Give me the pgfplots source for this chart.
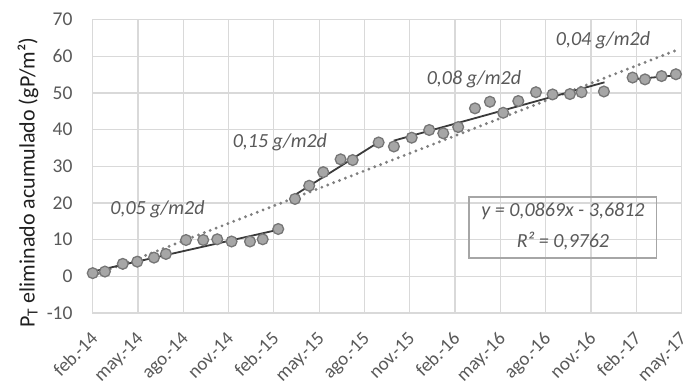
\documentclass[border=0pt]{standalone}
\usepackage{fontspec}
\setmainfont{Carlito}
\usepackage{pgfplots}
\pgfplotsset{compat=1.18}
\definecolor{gridc}{HTML}{D9D9D9}
\definecolor{txt}{HTML}{595959}
\definecolor{mfill}{HTML}{A6A6A6}
\definecolor{mdraw}{HTML}{767676}
\definecolor{trend}{HTML}{3A3A3A}
\definecolor{dotc}{HTML}{7F7F7F}
\definecolor{boxc}{HTML}{A6A6A6}
\begin{document}
\begin{tikzpicture}
\begin{axis}[
  at={(0,0)}, anchor=south west,
  scale only axis, width=588.8bp, height=293.4bp,
  xmin=0, xmax=39, ymin=-10, ymax=70,
  xtick={0,3,...,39},
  xticklabels={feb.-14,may.-14,ago.-14,nov.-14,feb.-15,may.-15,ago.-15,nov.-15,feb.-16,may.-16,ago.-16,nov.-16,feb.-17,may.-17},
  ytick={-10,0,...,70},
  yticklabels={-10,0,10,20,30,40,50,60,70},
  grid=major, grid style={gridc, line width=1.2bp},
  axis line style={gridc, line width=1.2bp},
  major tick length=0pt,
  tick label style={font=\fontsize{19.5bp}{22bp}\selectfont, text=txt},
  xticklabel style={font=\fontsize{19bp}{22bp}\selectfont, xshift=-2.5bp, yshift=-18bp, rotate=45, anchor=north east, inner sep=0pt, text height=12bp, text depth=0pt},
  yticklabel style={anchor=east, inner sep=0pt, xshift=-20bp},
  ylabel={P\textsubscript{T} eliminado acumulado (gP/m²)},
  ylabel style={at={(axis description cs:-0.11,0.445)}, anchor=center, font=\fontsize{22bp}{26bp}\selectfont, text=black!88},
  clip=false,
]
% data points
\addplot[only marks, mark=*, mark size=5.4bp, mark options={fill=mfill, draw=mdraw, line width=1.3bp}] coordinates {
(0.00,0.87) (0.81,1.3) (1.99,3.4) (2.95,4.0) (4.06,5.1) (4.85,6.1)
(6.18,9.9) (7.32,9.9) (8.25,10.1) (9.20,9.5) (10.42,9.5) (11.26,10.1) (12.29,12.9)
(13.40,21.1) (14.34,24.7) (15.27,28.4) (16.42,31.9) (17.22,31.7) (18.94,36.5)
(19.95,35.4) (21.13,37.8) (22.29,39.9) (23.22,39.0) (24.21,40.7) (25.32,45.8)
(26.31,47.6) (27.19,44.6) (28.19,47.8) (29.36,50.2) (30.46,49.6) (31.61,49.7)
(32.38,50.2) (33.86,50.4) (35.76,54.2) (36.58,53.7) (37.68,54.6) (38.63,55.1)
};
% overall linear trend (dotted)
\addplot[dotc, line width=3.2bp, line cap=round, dash pattern=on 0pt off 6.3bp] coordinates {(0,0.13) (38.63,61.6)};
% segment trends
\addplot[trend, line width=1.8bp] coordinates {(0,1.3) (12.29,12.7)};
\addplot[trend, line width=1.8bp] coordinates {(13.4,22.2) (19.1,37.0)};
\addplot[trend, line width=1.8bp] coordinates {(19.95,37.0) (33.9,52.9)};
\addplot[trend, line width=1.8bp] coordinates {(35.76,53.7) (38.9,54.9)};
% annotations
\begin{scope}[every node/.style={font=\fontsize{20bp}{24bp}\selectfont\itshape, text=txt, inner sep=0pt}]
\node at (axis cs:4.29,18.4) {0,05 g/m2d};
\node at (axis cs:12.4,36.6) {0,15 g/m2d};
\node at (axis cs:25.25,53.7) {0,08 g/m2d};
\node at (axis cs:33.8,64.4) {0,04 g/m2d};
\draw[boxc, line width=1.5bp] (axis cs:24.94,4.96) rectangle (axis cs:37.35,21.6);
\node at (axis cs:31.15,17.6) {y = 0,0869x - 3,6812};
\node at (axis cs:31.15,9.7) {R² = 0,9762};
\end{scope}
\end{axis}
\pgfresetboundingbox
\useasboundingbox (-92.7bp,-74bp) rectangle (590.3bp,313bp);
\end{tikzpicture}
\end{document}
